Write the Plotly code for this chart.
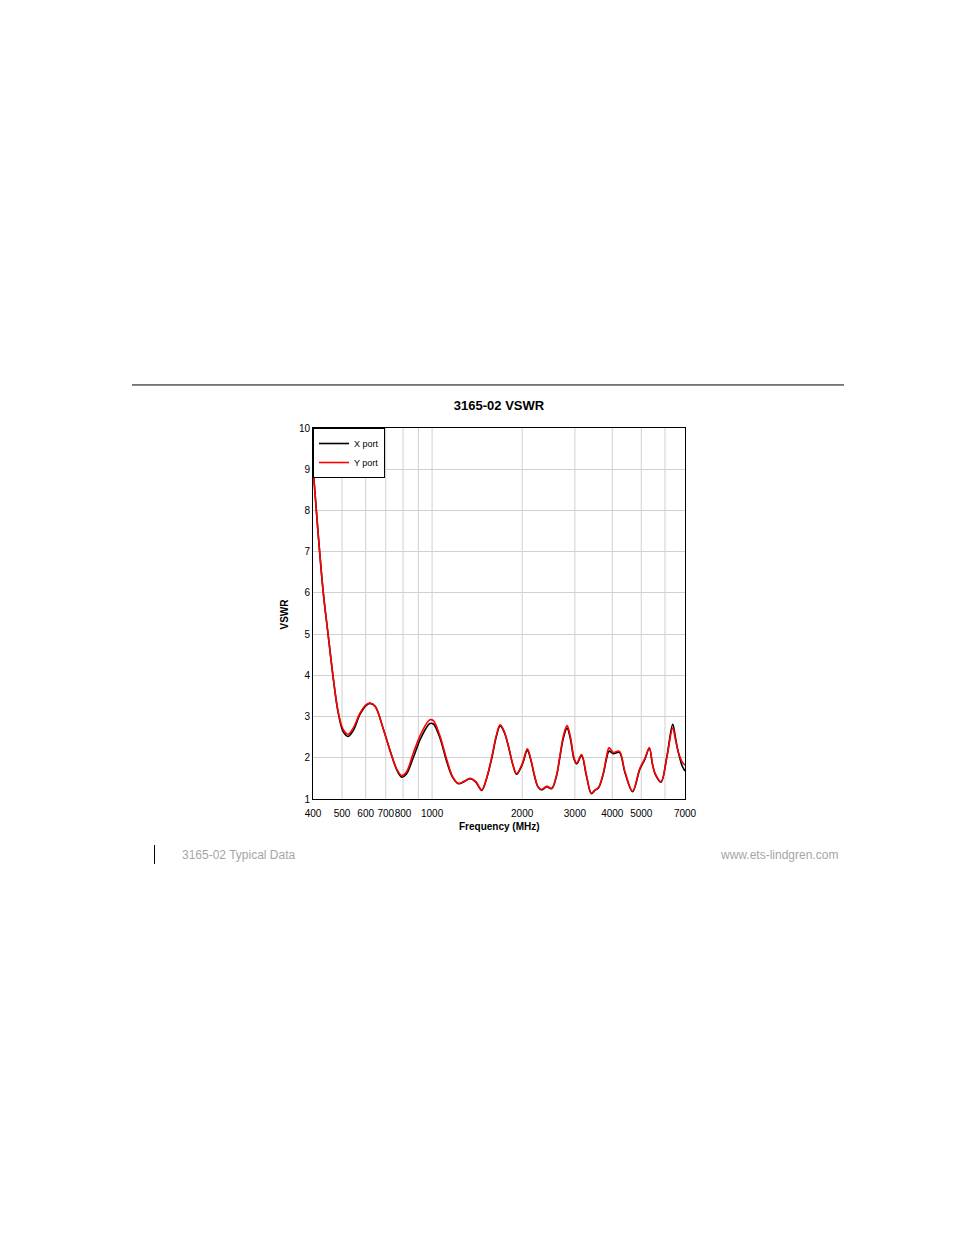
import numpy as np
import plotly.graph_objects as go

# frequency points (MHz)
freq_mhz = [400, 416, 433, 450, 469, 486, 505, 524, 545, 574, 600, 620, 645, 687,
            733, 765, 791, 820, 865, 920, 983, 1010, 1060, 1120, 1170, 1224, 1280,
            1340, 1400, 1465, 1520, 1584, 1640, 1688, 1740, 1797, 1860, 1915, 2000,
            2081, 2140, 2205, 2260, 2325, 2416, 2510, 2605, 2671, 2750, 2825, 2900,
            2980, 3043, 3158, 3279, 3405, 3500, 3592, 3731, 3820, 3902, 4031, 4221,
            4411, 4677, 4943, 5147, 5320, 5450, 5560, 5820, 6080, 6368, 6500, 6640,
            6850, 7000]

y_port = [9.05, 7.45, 6.0, 4.95, 3.85, 3.1, 2.68, 2.57, 2.72, 3.08, 3.28, 3.33, 3.25, 2.7,
          2.05, 1.7, 1.57, 1.65, 2.11, 2.6, 2.92, 2.9, 2.55, 1.95, 1.55, 1.38, 1.43,
          1.5, 1.42, 1.22, 1.5, 2.03, 2.55, 2.8, 2.65, 2.3, 1.85, 1.62, 1.85,
          2.22, 1.95, 1.54, 1.3, 1.23, 1.31, 1.26, 1.58, 2.03, 2.55, 2.78, 2.5,
          2.0, 1.87, 2.08, 1.58, 1.14, 1.22, 1.27, 1.62, 2.0, 2.24, 2.13, 2.16,
          1.66, 1.19, 1.74, 1.99, 2.25, 1.85, 1.62, 1.42, 1.99, 2.72, 2.45, 2.15,
          1.9, 1.82]

x_port = [9.05, 7.45, 6.0, 4.95, 3.85, 3.08, 2.63, 2.52, 2.66, 3.05, 3.26, 3.32, 3.25, 2.7,
          2.05, 1.68, 1.53, 1.6, 2.0, 2.5, 2.83, 2.82, 2.5, 1.9, 1.53, 1.37, 1.42,
          1.49, 1.41, 1.21, 1.49, 2.0, 2.52, 2.77, 2.63, 2.29, 1.84, 1.6, 1.83,
          2.18, 1.93, 1.52, 1.29, 1.22, 1.3, 1.25, 1.56, 2.0, 2.5, 2.72, 2.45,
          1.97, 1.85, 2.05, 1.56, 1.13, 1.21, 1.26, 1.6, 1.95, 2.16, 2.1, 2.13,
          1.64, 1.18, 1.72, 1.97, 2.23, 1.84, 1.61, 1.41, 2.0, 2.81, 2.5, 2.15,
          1.8, 1.68]

x_tickvals = [400, 500, 600, 700, 800, 1000, 2000, 3000, 4000, 5000, 7000]
x_gridvals = [500, 600, 700, 800, 900, 1000, 2000, 3000, 4000, 5000, 6000]
y_tickvals = [1, 2, 3, 4, 5, 6, 7, 8, 9, 10]

font_main = "Liberation Sans, Arial, sans-serif"

fig = go.Figure()
fig.add_trace(go.Scatter(x=freq_mhz, y=x_port, name="X port", mode="lines",
                         line=dict(color="black", width=1.6, shape="spline")))
fig.add_trace(go.Scatter(x=freq_mhz, y=y_port, name="Y port", mode="lines",
                         line=dict(color="#ff0000", width=1.6, shape="spline")))

# vertical grid lines (incl. 900 and 6000 which have no label)
for g in x_gridvals:
    fig.add_shape(type="line", xref="x", yref="paper", x0=g, x1=g, y0=0, y1=1,
                  line=dict(color="#d0d0d0", width=1), layer="below")

# page decorations: rule above chart and footer
fig.add_shape(type="line", xref="paper", yref="paper", x0=-0.4866, x1=1.4274,
              y0=1.116, y1=1.116, line=dict(color="black", width=1))
fig.add_shape(type="line", xref="paper", yref="paper", x0=-0.426, x1=-0.426,
              y0=-0.124, y1=-0.175, line=dict(color="black", width=1))

fig.add_annotation(text="3165-02 Typical Data", xref="paper", yref="paper",
                   x=-0.3575, y=-0.151, xanchor="left", yanchor="middle",
                   showarrow=False, font=dict(family=font_main, size=12, color="#a6a6a6"))
fig.add_annotation(text="www.ets-lindgren.com", xref="paper", yref="paper",
                   x=1.417, y=-0.151, xanchor="right", yanchor="middle",
                   showarrow=False, font=dict(family=font_main, size=12, color="#a6a6a6"))

fig.add_annotation(text="<b>Frequency (MHz)</b>", xref="paper", yref="paper",
                   x=0.5, y=-0.073, xanchor="center", yanchor="middle",
                   showarrow=False, font=dict(family=font_main, size=10, color="black"))
fig.add_annotation(text="<b>VSWR</b>", xref="paper", yref="paper",
                   x=-0.0753, y=0.5, xanchor="center", yanchor="middle", textangle=-90,
                   showarrow=False, font=dict(family=font_main, size=10, color="black"))

# the page adds an 8px body margin, so offsets are 8px smaller
fig.update_layout(
    width=954, height=1235,
    paper_bgcolor="white", plot_bgcolor="white",
    margin=dict(l=305, r=277, t=420, b=444),
    title=dict(text="<b>3165-02 VSWR</b>", x=0.5, xref="paper", y=1 - 397 / 1235,
               yref="container", xanchor="center", yanchor="middle",
               font=dict(family=font_main, size=13, color="black")),
    legend=dict(x=0, y=1, xanchor="left", yanchor="top", bgcolor="white",
                bordercolor="black", borderwidth=1, tracegroupgap=0,
                font=dict(family=font_main, size=9, color="black"),
                itemwidth=30),
    showlegend=True,
)

fig.update_xaxes(type="log", range=[np.log10(400), np.log10(7000)],
                 tickvals=x_tickvals, ticktext=[str(v) for v in x_tickvals],
                 tickangle=0, ticklabelstandoff=5, showgrid=False, zeroline=False, ticks="",
                 showline=True, linecolor="black", linewidth=1, mirror=True,
                 tickfont=dict(family=font_main, size=10, color="black"))
fig.update_yaxes(range=[1, 10], tickvals=y_tickvals,
                 showgrid=True, gridcolor="#d0d0d0", gridwidth=1, zeroline=False, ticks="",
                 showline=True, linecolor="black", linewidth=1, mirror=True,
                 tickfont=dict(family=font_main, size=10, color="black"))

fig.write_html("out.html")
